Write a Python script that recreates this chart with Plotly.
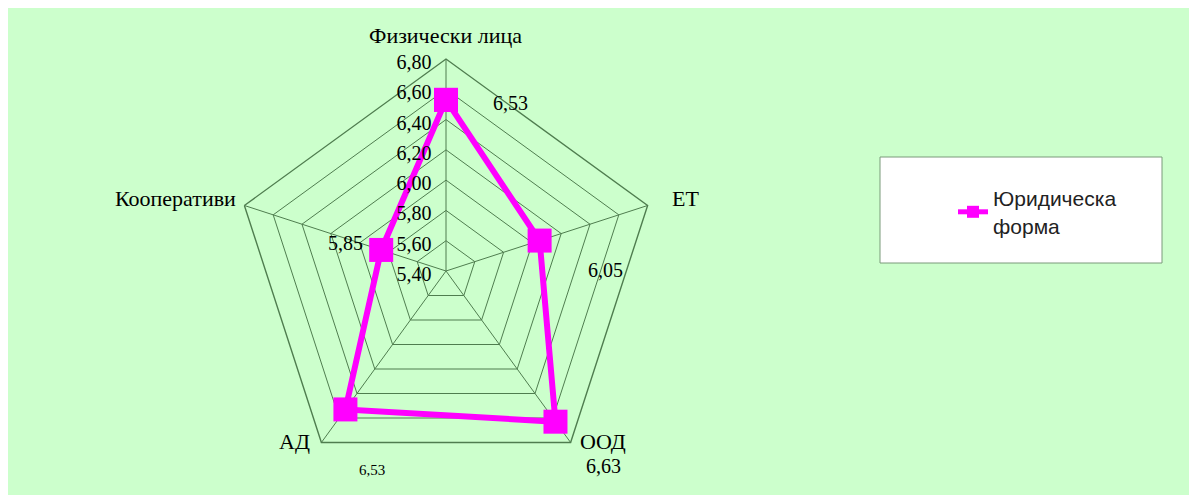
import plotly.graph_objects as go

categories = ["Физически лица", "ЕТ", "ООД", "АД", "Кооперативи"]
values = [6.53, 6.05, 6.63, 6.53, 5.85]
series_name = "Юридическа<br>форма"
radial_ticks = [5.40, 5.60, 5.80, 6.00, 6.20, 6.40, 6.60, 6.80]

W, H = 1197, 495
OFF = 8  # page body margin offset in screenshot
GREEN = "#CCFFCC"
GRID = "#4F7D4F"
SERIF = "Liberation Serif, Times New Roman, serif"

# layout positions (screenshot pixels)
label_px = [(510, 103), (605, 270), (603, 466), (372, 470), (345, 243)]
label_sizes = [20, 20, 20, 15, 20]
cat_px = [(445, 35, "center"), (670, 198, "left"), (578, 441, "left"),
          (312, 441, "right"), (238, 198, "right")]

cx, cy, R = 446 - OFF, 271 - OFF, 212


def px2paper(px, py):
    return (px - OFF) / W, 1 - (py - OFF) / H


def fmt(v):
    return f"{v:.2f}".replace(".", ",")


fig = go.Figure()
fig.add_trace(go.Scatterpolar(
    r=values + values[:1],
    theta=categories + categories[:1],
    mode="lines+markers",
    name=series_name,
    line=dict(color="#FF00FF", width=6),
    marker=dict(symbol="square", size=24, color="#FF00FF"),
    cliponaxis=False,
))

annotations = []
for v, (px, py), s in zip(values, label_px, label_sizes):
    x, y = px2paper(px, py)
    annotations.append(dict(
        x=x, y=y, xref="paper", yref="paper",
        text=fmt(v), showarrow=False,
        font=dict(family=SERIF, size=s, color="black"),
        xanchor="center", yanchor="middle",
    ))
for c, (px, py, anc) in zip(categories, cat_px):
    x, y = px2paper(px, py)
    annotations.append(dict(
        x=x, y=y, xref="paper", yref="paper",
        text=c, showarrow=False,
        font=dict(family=SERIF, size=22, color="black"),
        xanchor=anc, yanchor="middle",
    ))

lx0, ly0 = px2paper(880, 263)
lx1, ly1 = px2paper(1162, 157)
shapes = [
    dict(type="rect", xref="paper", yref="paper",
         x0=lx0, x1=lx1, y0=ly0, y1=ly1,
         fillcolor="white", line=dict(color="#7A9A7A", width=1), layer="below"),
]

legx, legy = px2paper(953, 212)

fig.update_layout(
    width=W, height=H,
    margin=dict(l=0, r=0, t=0, b=0),
    paper_bgcolor=GREEN,
    separators=", ",
    showlegend=True,
    legend=dict(
        x=legx, y=legy, xanchor="left", yanchor="middle",
        bgcolor="rgba(0,0,0,0)", borderwidth=0,
        itemsizing="constant",
        font=dict(family="Liberation Sans, Arial, sans-serif", size=21, color="#222222"),
    ),
    polar=dict(
        domain=dict(x=[(cx - R) / W, (cx + R) / W], y=[1 - (cy + R) / H, 1 - (cy - R) / H]),
        bgcolor="rgba(0,0,0,0)",
        gridshape="linear",
        radialaxis=dict(
            range=[radial_ticks[0], radial_ticks[-1]],
            tickvals=radial_ticks,
            ticktext=[fmt(t) for t in radial_ticks],
            angle=90, side="counterclockwise",
            showline=False, ticks="",
            gridcolor=GRID, gridwidth=1.4,
            tickfont=dict(family=SERIF, size=20, color="black"),
        ),
        angularaxis=dict(
            rotation=90, direction="clockwise",
            categoryorder="array", categoryarray=categories,
            showline=True, linecolor=GRID, linewidth=1.4,
            gridcolor=GRID, gridwidth=1.4, ticks="",
            showticklabels=False,
        ),
    ),
    annotations=annotations,
    shapes=shapes,
)

fig.write_html("out.html")
